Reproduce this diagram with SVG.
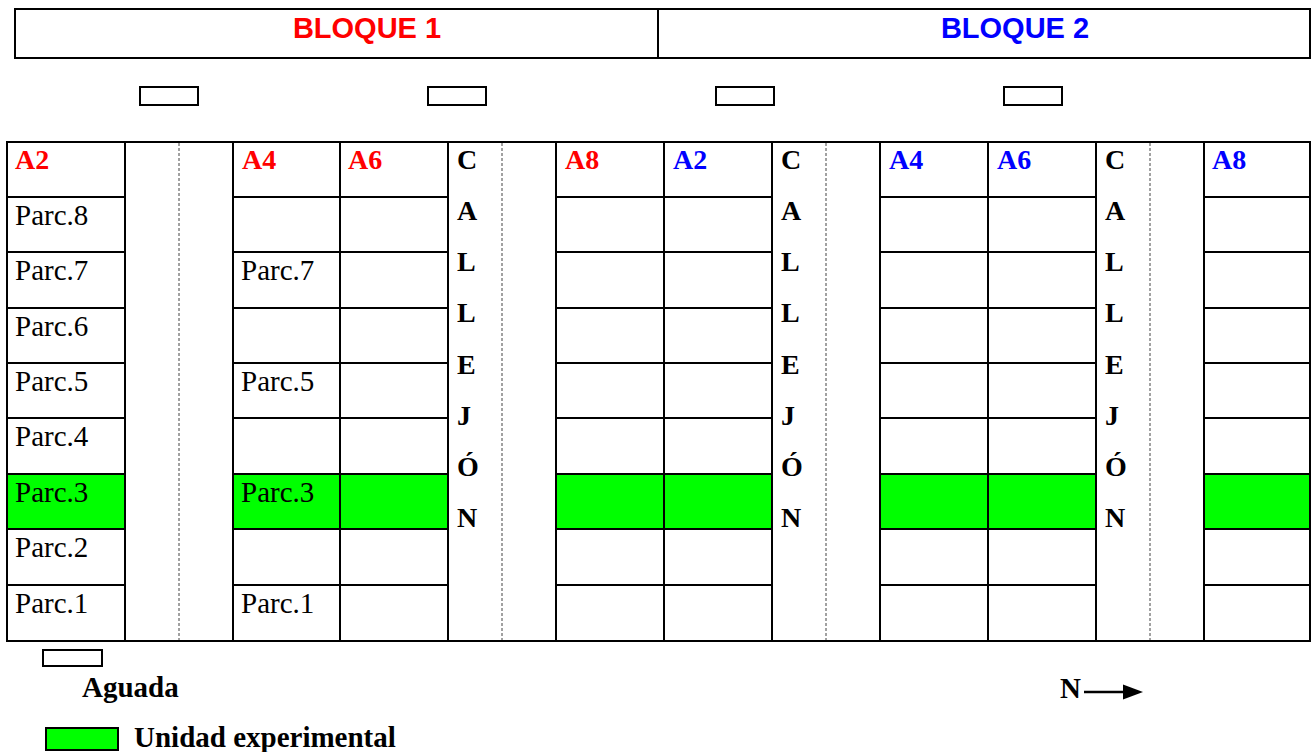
<svg xmlns="http://www.w3.org/2000/svg" width="1312" height="752" viewBox="0 0 1312 752">
<style>
.ln{stroke:#000;stroke-width:2;fill:none}
.dash{stroke:#444;stroke-width:1;stroke-dasharray:3 2;fill:none}
.box{fill:#fff;stroke:#000;stroke-width:2}
.g{fill:#00ff00}
.hdr{font-family:"Liberation Sans",Arial,sans-serif;font-weight:bold;font-size:29px}
.t{font-family:"Liberation Serif","Times New Roman",serif;font-size:29px;fill:#000}
.b{font-family:"Liberation Serif","Times New Roman",serif;font-size:28px;font-weight:bold;fill:#000}
.lg{font-family:"Liberation Serif","Times New Roman",serif;font-size:29px;font-weight:bold;fill:#000}
.red{fill:#ff0000}
.blue{fill:#0000ff}
</style>
<rect width="1312" height="752" fill="#fff"/>
<g id="header">
<rect x="15" y="9" width="1295" height="49" class="box"/>
<line x1="658" y1="9" x2="658" y2="58" class="ln"/>
<text x="367" y="38" text-anchor="middle" class="hdr red">BLOQUE 1</text>
<text x="1015" y="38" text-anchor="middle" class="hdr blue">BLOQUE 2</text>
</g>
<g id="aguadas">
<rect x="140" y="87" width="58" height="18" class="box"/>
<rect x="428" y="87" width="58" height="18" class="box"/>
<rect x="716" y="87" width="58" height="18" class="box"/>
<rect x="1004" y="87" width="58" height="18" class="box"/>
</g>
<g id="green-cells">
<rect x="7" y="474" width="118" height="55" class="g"/>
<rect x="233" y="474" width="215" height="55" class="g"/>
<rect x="556" y="474" width="216" height="55" class="g"/>
<rect x="880" y="474" width="216" height="55" class="g"/>
<rect x="1204" y="474" width="106" height="55" class="g"/>
</g>
<g id="grid">
<rect x="7" y="142" width="1303" height="499" class="ln"/>
<path class="ln" d="M125,142V641M233,142V641M340,142V641M448,142V641M556,142V641M664,142V641M772,142V641M880,142V641M988,142V641M1096,142V641M1204,142V641"/>
<path class="ln" d="M7,197H125M233,197H448M556,197H772M880,197H1096M1204,197H1310
M7,252H125M233,252H448M556,252H772M880,252H1096M1204,252H1310
M7,308H125M233,308H448M556,308H772M880,308H1096M1204,308H1310
M7,363H125M233,363H448M556,363H772M880,363H1096M1204,363H1310
M7,418H125M233,418H448M556,418H772M880,418H1096M1204,418H1310
M7,474H125M233,474H448M556,474H772M880,474H1096M1204,474H1310
M7,529H125M233,529H448M556,529H772M880,529H1096M1204,529H1310
M7,585H125M233,585H448M556,585H772M880,585H1096M1204,585H1310"/>
<path class="dash" d="M179,143V640M502,143V640M826,143V640M1150,143V640"/>
</g>
<g id="column-headers">
<text x="15" y="169" class="b red">A2</text>
<text x="242" y="169" class="b red">A4</text>
<text x="348" y="169" class="b red">A6</text>
<text x="565" y="169" class="b red">A8</text>
<text x="673" y="169" class="b blue">A2</text>
<text x="889" y="169" class="b blue">A4</text>
<text x="997" y="169" class="b blue">A6</text>
<text x="1212" y="169" class="b blue">A8</text>
</g>
<g id="parcelas">
<text x="15" y="225" class="t">Parc.8</text>
<text x="15" y="280" class="t">Parc.7</text>
<text x="15" y="336" class="t">Parc.6</text>
<text x="15" y="391" class="t">Parc.5</text>
<text x="15" y="446" class="t">Parc.4</text>
<text x="15" y="502" class="t">Parc.3</text>
<text x="15" y="557" class="t">Parc.2</text>
<text x="15" y="613" class="t">Parc.1</text>
<text x="241" y="280" class="t">Parc.7</text>
<text x="241" y="391" class="t">Parc.5</text>
<text x="241" y="502" class="t">Parc.3</text>
<text x="241" y="613" class="t">Parc.1</text>
</g>
<g id="callejon-1" class="b">
<text x="457" y="169">C</text><text x="457" y="220">A</text><text x="457" y="271">L</text><text x="457" y="322">L</text><text x="457" y="374">E</text><text x="457" y="425">J</text><text x="457" y="476">Ó</text><text x="457" y="527">N</text>
</g>
<g id="callejon-2" class="b">
<text x="781" y="169">C</text><text x="781" y="220">A</text><text x="781" y="271">L</text><text x="781" y="322">L</text><text x="781" y="374">E</text><text x="781" y="425">J</text><text x="781" y="476">Ó</text><text x="781" y="527">N</text>
</g>
<g id="callejon-3" class="b">
<text x="1105" y="169">C</text><text x="1105" y="220">A</text><text x="1105" y="271">L</text><text x="1105" y="322">L</text><text x="1105" y="374">E</text><text x="1105" y="425">J</text><text x="1105" y="476">Ó</text><text x="1105" y="527">N</text>
</g>
<g id="legend">
<rect x="43" y="650" width="59" height="16" class="box"/>
<text x="82" y="697" class="lg">Aguada</text>
<rect x="46" y="728" width="72" height="22" fill="#00ff00" stroke="#000" stroke-width="2"/>
<text x="134" y="747" class="lg">Unidad experimental</text>
</g>
<g id="north">
<text x="1060" y="698" class="lg">N</text>
<line x1="1084" y1="692" x2="1126" y2="692" stroke="#000" stroke-width="2.5"/>
<polygon points="1123,684.5 1143,692 1123,699.5" fill="#000"/>
</g>
</svg>
